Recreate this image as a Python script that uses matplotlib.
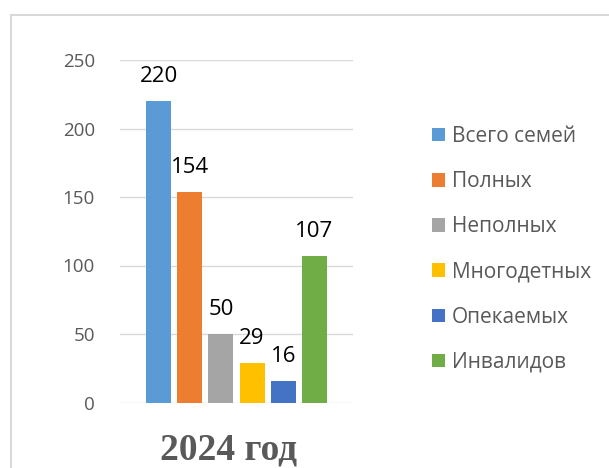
import matplotlib
matplotlib.use("Agg")
import matplotlib.pyplot as plt
from matplotlib.patches import Rectangle

categories = ["Всего семей", "Полных", "Неполных", "Многодетных", "Опекаемых", "Инвалидов"]
values = [220, 154, 50, 29, 16, 107]
colors = ["#5B9BD5", "#ED7D31", "#A5A5A5", "#FFC000", "#4472C4", "#70AD47"]
yticks = [0, 50, 100, 150, 200, 250]
group_label = "2024 год"

W, H = 609, 468
plt.rcParams['font.family'] = ['Open Sans', 'DejaVu Sans']
fig = plt.figure(figsize=(W / 100, H / 100), dpi=100)

ax = fig.add_axes([120 / W, 1 - 402.5 / H, 233 / W, 342.5 / H])
bar_w = 25 / 31
xs = list(range(len(values)))
for x, v, c, lab in zip(xs, values, colors, categories):
    b = ax.bar(x, v, width=bar_w, color=c, label=lab, zorder=3)
    ax.bar_label(b, labels=[str(v)], padding=10, fontsize=16, color="black")

ax.set_xlim(-0.403 - 26 / 31, 5.403 + 26 / 31)
ax.set_ylim(0, 250)
ax.set_yticks(yticks)
ax.set_yticklabels([str(t) for t in yticks])
ax.tick_params(axis='y', length=0, pad=18, labelsize=13.5, labelcolor="#595959")
ax.set_xticks([])
ax.grid(axis='y', color="#D9D9D9", linewidth=1.0, zorder=0)
for s in ax.spines.values():
    s.set_visible(False)

fs = 15
px = fs * 100 / 72
leg = ax.legend(loc='upper left', bbox_to_anchor=(432 / W, 1 - 126 / H),
                bbox_transform=fig.transFigure, frameon=False,
                fontsize=fs, handlelength=13 / px, handleheight=13 / px,
                handletextpad=7 / px, labelspacing=1.16, borderpad=0, borderaxespad=0)
for t in leg.get_texts():
    t.set_color("#595959")

fig.text(228.5 / W, 1 - 459 / H, group_label, ha='center', va='baseline',
         fontsize=27, fontweight='bold', color="#595959",
         family=['Liberation Serif', 'DejaVu Serif'])

fig.patches.append(Rectangle((10.5 / W, -0.2), 1.5, 1.2 - 15 / H,
                             transform=fig.transFigure, fill=False,
                             edgecolor="#D9D9D9", linewidth=1.5))

fig.savefig("out.png", dpi=100)
